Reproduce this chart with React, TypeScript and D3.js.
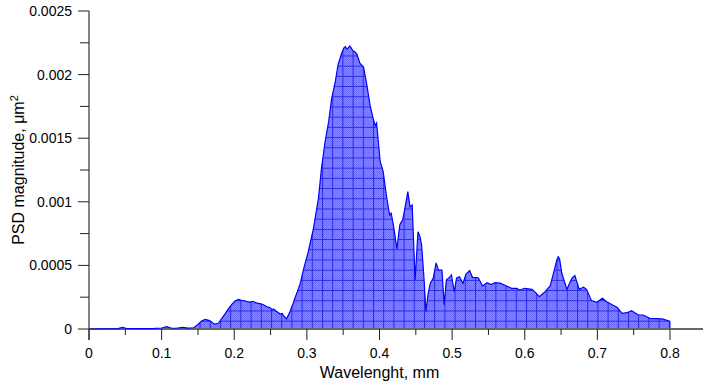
import React from "react";
import * as d3 from "d3";

const wavelength = [
  0, 0.02, 0.04, 0.046, 0.052, 0.07, 0.09, 0.1, 0.107, 0.113, 0.12, 0.129, 0.136, 0.144,
  0.15, 0.155, 0.16, 0.166, 0.173, 0.178, 0.183, 0.188, 0.192, 0.197, 0.201, 0.206, 0.21,
  0.214, 0.218, 0.222, 0.226, 0.23, 0.235, 0.238, 0.242, 0.245, 0.249, 0.252, 0.254, 0.258,
  0.261, 0.263, 0.266, 0.269, 0.272, 0.275, 0.277, 0.281, 0.284, 0.288, 0.291, 0.295,
  0.302, 0.309, 0.316, 0.32, 0.325, 0.33, 0.334, 0.339, 0.343, 0.348, 0.351, 0.353, 0.355,
  0.357, 0.359, 0.361, 0.363, 0.366, 0.369, 0.373, 0.378, 0.382, 0.387, 0.391, 0.394,
  0.396, 0.401, 0.405, 0.41, 0.414, 0.416, 0.419, 0.424, 0.428, 0.432, 0.435, 0.439,
  0.442, 0.445, 0.449, 0.453, 0.456, 0.458, 0.461, 0.464, 0.467, 0.47, 0.474, 0.478,
  0.481, 0.486, 0.489, 0.492, 0.497, 0.499, 0.503, 0.506, 0.51, 0.515, 0.519, 0.524,
  0.528, 0.536, 0.542, 0.548, 0.554, 0.559, 0.566, 0.575, 0.582, 0.589, 0.593, 0.6,
  0.61, 0.616, 0.62, 0.628, 0.635, 0.639, 0.644, 0.646, 0.648, 0.651, 0.658, 0.665,
  0.669, 0.675, 0.681, 0.685, 0.692, 0.699, 0.707, 0.713, 0.721, 0.727, 0.734, 0.741,
  0.747, 0.756, 0.763, 0.772, 0.789, 0.799, 0.8,
];

const psd = [
  0, 0.000002, 0.000003, 0.000012, 0.000004, 0.000003, 0.000005, 0.000008, 0.000019,
  0.000008, 0.000006, 0.000013, 0.000007, 0.00001, 0.000035, 0.000062, 0.000076,
  0.000066, 0.000038, 0.000045, 0.000084, 0.000125, 0.00016, 0.000195, 0.00022,
  0.000232, 0.000226, 0.000222, 0.000215, 0.000212, 0.000218, 0.000205, 0.0002,
  0.000196, 0.000185, 0.000175, 0.000168, 0.000152, 0.000158, 0.00014, 0.000128,
  0.000118, 0.000122, 0.000098, 0.00008, 0.000115, 0.00014, 0.0002, 0.00025, 0.00031,
  0.00036, 0.00046, 0.00061, 0.00079, 0.00103, 0.00126, 0.00147, 0.00163, 0.00181,
  0.00194, 0.00208, 0.00217, 0.00221, 0.00222, 0.0022, 0.00221, 0.002225, 0.00221,
  0.00219, 0.00218, 0.00216, 0.00209, 0.00206, 0.00194, 0.00176, 0.00166, 0.0016,
  0.00162, 0.001315, 0.00124, 0.00103, 0.000896, 0.00091, 0.00082, 0.00063, 0.00082,
  0.00086, 0.00095, 0.00108, 0.00096, 0.000975, 0.000385, 0.000765, 0.00072, 0.00066,
  0.00042, 0.000136, 0.00028, 0.00036, 0.0004, 0.00052, 0.000464, 0.000464, 0.00019,
  0.000385, 0.00041, 0.000425, 0.000293, 0.0004, 0.00041, 0.00036, 0.00043, 0.00046,
  0.000406, 0.000403, 0.000338, 0.000364, 0.00035, 0.000364, 0.00036, 0.000338,
  0.00032, 0.00032, 0.000307, 0.00032, 0.000312, 0.00028, 0.000254, 0.000293,
  0.000338, 0.000425, 0.00054, 0.000568, 0.00055, 0.000438, 0.000312, 0.0004, 0.00042,
  0.000312, 0.000328, 0.000312, 0.000223, 0.00021, 0.000241, 0.000215, 0.000189,
  0.000171, 0.000123, 0.000128, 0.000144, 0.000112, 0.00011, 0.000084, 0.000079,
  0.000063, 0.00006,
];

const xTicks = [0, 0.1, 0.2, 0.3, 0.4, 0.5, 0.6, 0.7, 0.8];
const xTickLabels = ["0", "0.1", "0.2", "0.3", "0.4", "0.5", "0.6", "0.7", "0.8"];
const yTicks = [0, 0.0005, 0.001, 0.0015, 0.002, 0.0025];
const yTickLabels = ["0", "0.0005", "0.001", "0.0015", "0.002", "0.0025"];
const xMinor = [0.05, 0.15, 0.25, 0.35, 0.45, 0.55, 0.65, 0.75];
const yMinor = [0.00025, 0.00075, 0.00125, 0.00175, 0.00225];

const W = 703;
const H = 384;
const left = 89;
const top = 11;
const bottom = 329;
const font = "'Liberation Sans', Arial, sans-serif";

export default function App() {
  const x = d3.scaleLinear().domain([0, 0.8]).range([left, 670]);
  const y = d3.scaleLinear().domain([0, 0.0025]).range([bottom, top]);
  const pts = wavelength.map((w, i) => [w, psd[i]] as [number, number]);
  const area = d3
    .area<[number, number]>()
    .x((d) => x(d[0]))
    .y0(y(0))
    .y1((d) => y(d[1]))(pts) as string;
  const line = d3
    .line<[number, number]>()
    .x((d) => x(d[0]))
    .y((d) => y(d[1]))(pts) as string;
  const g = 10.2;

  return (
    <svg
      width={W}
      height={H}
      style={{ position: "absolute", left: 0, top: 0, display: "block", background: "#fff" }}
    >
      <defs>
        <pattern id="checker" patternUnits="userSpaceOnUse" width={2} height={2}>
          <rect width={2} height={2} fill="#8585ff" />
          <rect width={1} height={1} fill="#6e6eff" />
          <rect x={1} y={1} width={1} height={1} fill="#6e6eff" />
        </pattern>
        <pattern id="grid" patternUnits="userSpaceOnUse" width={g} height={g} x={311.8} y={259.5}>
          <path d={`M0.5,0V${g}M0,0.5H${g}`} stroke="#2a2ae0" strokeWidth={1} fill="none" />
        </pattern>
      </defs>
      <path d={area} fill="url(#checker)" />
      <path d={area} fill="url(#grid)" />

      {/* x axis */}
      <line x1={left} x2={W} y1={bottom} y2={bottom} stroke="#666" strokeWidth={2} />

      <path d={line} fill="none" stroke="#0000ff" strokeWidth={1.2} />
      <line x1={x(0.8)} x2={x(0.8)} y1={y(psd[psd.length - 1])} y2={bottom - 1} stroke="#0000ff" strokeWidth={1} />

      {xTicks.map((t) => (
        <line key={"xt" + t} x1={x(t)} x2={x(t)} y1={bottom} y2={bottom + 11} stroke="#222" strokeWidth={1} />
      ))}
      {xMinor.map((t) => (
        <line key={"xm" + t} x1={x(t)} x2={x(t)} y1={bottom} y2={bottom + 6} stroke="#222" strokeWidth={1} />
      ))}
      {xTicks.map((t, i) => (
        <text key={"xl" + t} x={x(t)} y={358} textAnchor="middle" fontFamily={font} fontSize={14} fill="#000">
          {xTickLabels[i]}
        </text>
      ))}
      <text x={x(0.4)} y={378} textAnchor="middle" fontFamily={font} fontSize={16} fill="#000">
        Wavelenght, mm
      </text>

      {/* y axis */}
      <line x1={left} x2={left} y1={top} y2={bottom + 11} stroke="#333" strokeWidth={1.2} />
      {yTicks.map((t) => (
        <line key={"yt" + t} x1={left - 11} x2={left} y1={y(t)} y2={y(t)} stroke="#222" strokeWidth={1} />
      ))}
      {yMinor.map((t) => (
        <line key={"ym" + t} x1={left - 9} x2={left} y1={y(t)} y2={y(t)} stroke="#222" strokeWidth={1} />
      ))}
      {yTicks.map((t, i) => (
        <text key={"yl" + t} x={72} y={y(t) + 5} textAnchor="end" fontFamily={font} fontSize={14} fill="#000">
          {yTickLabels[i]}
        </text>
      ))}
      <text
        transform={`translate(24,${(top + bottom) / 2}) rotate(-90)`}
        textAnchor="middle"
        fontFamily={font}
        fontSize={16}
        fill="#000"
      >
        PSD magnitude, μm
        <tspan fontSize={11} dy={-6}>2</tspan>
      </text>
    </svg>
  );
}
